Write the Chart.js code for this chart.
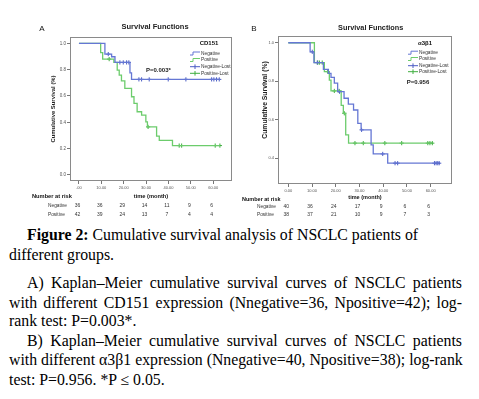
<!DOCTYPE html>
<html>
<head>
<meta charset="utf-8">
<script src="https://cdn.jsdelivr.net/npm/chart.js@4/dist/chart.umd.min.js"></script>
<style>
  body { margin: 0; background: #fff; width: 479px; height: 399px; overflow: hidden; position: relative; }
  canvas { position: absolute; top: 0; }
  #chartA { left: 0; }
  #chartB { left: 240px; }
  .cap { position: absolute; font-family: "Liberation Serif", "Times New Roman", serif; font-size: 15.8px;
         line-height: 19px; color: #000; white-space: nowrap; }
  .just { text-align: justify; text-align-last: justify; }
</style>
</head>
<body>
<canvas id="chartA" width="240" height="220"></canvas>
<canvas id="chartB" width="239" height="220"></canvas>

<div class="cap" style="left:27px;top:225px"><b>Figure 2:</b> Cumulative survival analysis of NSCLC patients of</div>
<div class="cap" style="left:9px;top:245px">different groups.</div>
<div class="cap just" style="left:27px;top:273px;width:435px">A) Kaplan–Meier cumulative survival curves of NSCLC patients</div>
<div class="cap just" style="left:9px;top:293px;width:453px">with different CD151 expression (Nnegative=36, Npositive=42); log-</div>
<div class="cap" style="left:9px;top:311px">rank test: P=0.003*.</div>
<div class="cap just" style="left:27px;top:331px;width:435px">B) Kaplan–Meier cumulative survival curves of NSCLC patients</div>
<div class="cap just" style="left:9px;top:350px;width:453px">with different α3β1 expression (Nnegative=40, Npositive=38); log-rank</div>
<div class="cap" style="left:9px;top:370px">test: P=0.956. *P ≤ 0.05.</div>

<script>
// ---- panel A: CD151 ----
const timeTicksA = [0, 10, 20, 30, 40, 50, 60];
const timeLabelsA = ['.00', '10.00', '20.00', '30.00', '40.00', '50.00', '60.00'];
const survTicksA = [0, 0.2, 0.4, 0.6, 0.8, 1.0];
const survLabelsA = ['0.0', '0.2', '0.4', '0.6', '0.8', '1.0'];
const negTimeA = [0, 11.6, 14.6, 16.1, 22.8, 23.5, 63];
const negSurvA = [1, 0.918, 0.898, 0.855, 0.776, 0.726, 0.726];
const negLostA = [13.1, 18.3, 19.8, 21.3, 22.3, 26.8, 28, 31.4, 39.9, 47.8, 59.3, 60.3, 61.5, 62.7];
const posTimeA = [0, 9.7, 10.6, 15.6, 17.1, 18, 19, 20.5, 23.5, 24.6, 26, 28, 29.9, 30.6, 34.7, 35.9, 41.8, 63];
const posSurvA = [1, 0.93, 0.88, 0.855, 0.797, 0.759, 0.715, 0.657, 0.594, 0.543, 0.48, 0.454, 0.403, 0.365, 0.295, 0.263, 0.223, 0.223];
const posLostA = [13.5, 30.9, 44.8, 45.9, 60.9, 63];
const riskNegA = [36, 36, 29, 14, 11, 9, 6];
const riskPosA = [42, 39, 24, 13, 7, 4, 4];

// ---- panel B: a3b1 ----
const timeTicksB = [0, 10, 20, 30, 40, 50, 60];
const timeLabelsB = ['0.00', '10.00', '20.00', '30.00', '40.00', '50.00', '60.00'];
const survTicksB = [0.4, 0.6, 0.8, 1.0];
const survLabelsB = ['0.4', '0.6', '0.8', '1.0'];
const negTimeB = [0, 9.2, 10.8, 14.8, 16.9, 18, 19.4, 20.8, 23.5, 25.3, 27.5, 29.3, 30.7, 34.9, 35.8, 41.9, 63.6];
const negSurvB = [1, 0.953, 0.897, 0.862, 0.841, 0.82, 0.79, 0.746, 0.712, 0.682, 0.651, 0.582, 0.548, 0.47, 0.423, 0.375, 0.375];
const negLostB = [10.1, 12.2, 21.6, 30.9, 39.8, 45, 46.1, 61.6, 62.3, 63, 63.6];
const posTimeB = [0, 11, 15.2, 17.3, 18, 22.3, 23.2, 24.2, 25.4, 60.7];
const posSurvB = [1, 0.897, 0.85, 0.806, 0.75, 0.675, 0.634, 0.522, 0.479, 0.479];
const posLostB = [12.4, 13.1, 14.3, 16.6, 19.4, 21.4, 23.6, 28.1, 31.6, 40.7, 47.8, 58.8, 59.7, 60.7];
const riskNegB = [40, 36, 24, 17, 9, 6, 6];
const riskPosB = [38, 37, 21, 10, 9, 7, 3];

const BLUE = '#6577d4', BLUE_MARK = '#4a5cc4';
const GREEN = '#6ccc6c', GREEN_MARK = '#3fae3f';
const SANS = '"Liberation Sans", Arial, sans-serif';

// survival value at time t from the step function
function survAt(times, surv, t) {
  let s = surv[0];
  for (let i = 0; i < times.length; i++) if (times[i] <= t) s = surv[i];
  return s;
}

function stepSet(times, surv, color) {
  return {
    data: times.map((t, i) => ({ x: t, y: surv[i] })),
    stepped: true, borderColor: color, borderWidth: 1.3,
    pointRadius: 0, fill: false
  };
}

function lostSet(lost, times, surv, color) {
  return {
    data: lost.map(t => ({ x: t, y: survAt(times, surv, t) })),
    showLine: false, pointStyle: 'cross', pointRadius: 2.1,
    borderColor: color, borderWidth: 1
  };
}

function txt(ctx, s, x, y, font, align, color) {
  ctx.font = font;
  ctx.textAlign = align || 'left';
  ctx.textBaseline = 'middle';
  ctx.fillStyle = color || '#222';
  ctx.fillText(s, x, y);
}

const annot = {
  id: 'annot',
  beforeDatasetsDraw(chart) {
    const ctx = chart.ctx, a = chart.chartArea;
    ctx.save();
    ctx.strokeStyle = '#8a8a8a';
    ctx.lineWidth = 1;
    ctx.strokeRect(Math.round(a.left) + 0.5, Math.round(a.top) + 0.5,
      Math.round(a.right - a.left) - 1, Math.round(a.bottom - a.top) - 1);
    ctx.restore();
  },
  afterDraw(chart, args, o) {
    const ctx = chart.ctx, xs = chart.scales.x;
    ctx.save();
    txt(ctx, o.letter, o.letterPos[0], o.letterPos[1], '8px ' + SANS, 'center', '#111');
    txt(ctx, 'Survival Functions', o.titlePos[0], o.titlePos[1], 'bold ' + o.titleSize + 'px ' + SANS, 'center', '#222');

    ctx.save();
    ctx.translate(o.yTitlePos[0], o.yTitlePos[1]);
    ctx.rotate(-Math.PI / 2);
    txt(ctx, 'Cumulative Survival (%)', 0, 0, 'bold ' + o.yTitleSize + 'px ' + SANS, 'center', '#222');
    ctx.restore();

    // legend
    txt(ctx, o.legendHead, o.legendHeadPos[0], o.legendHeadPos[1], 'bold 6px ' + SANS, 'center', '#111');
    const items = [
      ['Negative', BLUE, false], ['Positive', GREEN, false],
      ['Negative-Lost', BLUE_MARK, true], ['Positive-Lost', GREEN_MARK, true]
    ];
    const x0 = o.legendX;
    items.forEach((it, i) => {
      const y = o.legendRows[i];
      ctx.strokeStyle = it[1];
      ctx.lineWidth = 1;
      ctx.beginPath();
      if (it[2]) {
        ctx.moveTo(x0, y); ctx.lineTo(x0 + 10, y);
        ctx.moveTo(x0 + 5, y - 2.3); ctx.lineTo(x0 + 5, y + 2.3);
      } else {
        ctx.moveTo(x0, y + 1.5); ctx.lineTo(x0 + 3, y + 1.5);
        ctx.lineTo(x0 + 3, y - 1.5); ctx.lineTo(x0 + 10, y - 1.5);
      }
      ctx.stroke();
      txt(ctx, it[0], x0 + 11, y, '4.8px ' + SANS, 'left', '#333');
    });
    txt(ctx, o.pText, o.pPos[0], o.pPos[1], 'bold 6px ' + SANS, 'left', '#222');

    // number at risk table
    txt(ctx, 'Number at risk', o.riskHeadPos[0], o.riskHeadPos[1], 'bold ' + o.riskHeadSize + 'px ' + SANS, 'left', '#111');
    txt(ctx, 'time (month)', o.timeTitlePos[0], o.timeTitlePos[1], 'bold ' + o.riskHeadSize + 'px ' + SANS, 'center', '#111');
    [['Negative', o.riskNeg], ['Positive', o.riskPos]].forEach((row, r) => {
      const y = o.riskRows[r];
      txt(ctx, row[0], o.riskLabelX, y, '4.8px ' + SANS, 'left', '#333');
      row[1].forEach((v, i) => {
        txt(ctx, String(v), xs.getPixelForValue(o.riskTimes[i]) + o.riskShift, y, '5px ' + SANS, 'center', '#333');
      });
    });
    ctx.restore();
  }
};

function makeChart(id, p) {
  const canvas = document.getElementById(id);
  const W = canvas.width, H = canvas.height;
  return new Chart(canvas, {
    type: 'line',
    data: {
      datasets: [
        stepSet(p.negTime, p.negSurv, BLUE),
        stepSet(p.posTime, p.posSurv, GREEN),
        lostSet(p.negLost, p.negTime, p.negSurv, BLUE_MARK),
        lostSet(p.posLost, p.posTime, p.posSurv, GREEN_MARK)
      ]
    },
    options: {
      responsive: false,
      animation: false,
      layout: { padding: { left: 0, top: p.area.top, right: W - p.area.right, bottom: 0 } },
      plugins: { legend: { display: false }, tooltip: { enabled: false }, annot: p.annot },
      scales: {
        x: {
          type: 'linear', min: p.xMin, max: p.xMax,
          afterFit: s => { s.height = H - p.area.bottom; },
          afterBuildTicks: s => { s.ticks = p.xTicks.map(v => ({ value: v })); },
          grid: { drawOnChartArea: false, tickLength: 3, color: '#777' },
          border: { display: false },
          ticks: { autoSkip: false, maxRotation: 0, padding: 1, color: '#555',
                   font: { family: SANS, size: 4 }, callback: (v, i) => p.xLabels[i] }
        },
        y: {
          type: 'linear', min: p.yMin, max: p.yMax,
          afterFit: s => { s.width = p.area.left; },
          afterBuildTicks: s => { s.ticks = p.yTicks.map(v => ({ value: v })); },
          grid: { drawOnChartArea: false, tickLength: 3, color: '#777' },
          border: { display: false },
          ticks: { padding: 1, color: '#555', font: { family: SANS, size: p.yTickSize },
                   callback: (v, i) => p.yLabels[i] }
        }
      }
    },
    plugins: [annot]
  });
}

makeChart('chartA', {
  area: { left: 70, top: 37, right: 232, bottom: 181 },
  xMin: -4.0, xMax: 68.4, yMin: -0.046, yMax: 1.048, yTickSize: 4.5,
  xTicks: timeTicksA, xLabels: timeLabelsA, yTicks: survTicksA, yLabels: survLabelsA,
  negTime: negTimeA, negSurv: negSurvA, negLost: negLostA,
  posTime: posTimeA, posSurv: posSurvA, posLost: posLostA,
  annot: {
    letter: 'A', letterPos: [42, 29], titlePos: [155, 27], titleSize: 7.5,
    yTitlePos: [53, 109], yTitleSize: 5.9,
    legendHead: 'CD151', legendHeadPos: [209, 43], legendX: 190, legendRows: [53.5, 60, 66.7, 73.3],
    pText: 'P=0.003*', pPos: [146, 70],
    riskHeadPos: [32, 196], riskHeadSize: 5.7, timeTitlePos: [151, 196],
    riskLabelX: 48, riskRows: [205.3, 214.3], riskShift: -1.5,
    riskTimes: timeTicksA, riskNeg: riskNegA, riskPos: riskPosA
  }
});

makeChart('chartB', {
  area: { left: 38, top: 36, right: 212, bottom: 184 },
  xMin: -4.34, xMax: 69.0, yMin: 0.267, yMax: 1.035, yTickSize: 4,
  xTicks: timeTicksB, xLabels: timeLabelsB, yTicks: survTicksB, yLabels: survLabelsB,
  negTime: negTimeB, negSurv: negSurvB, negLost: negLostB,
  posTime: posTimeB, posSurv: posSurvB, posLost: posLostB,
  annot: {
    letter: 'B', letterPos: [14, 29], titlePos: [130.7, 28], titleSize: 7.3,
    yTitlePos: [25, 100], yTitleSize: 6.8,
    legendHead: 'α3β1', legendHeadPos: [185, 43], legendX: 168, legendRows: [52.7, 59, 65.7, 71.7],
    pText: 'P=0.956', pPos: [166.7, 82.3],
    riskHeadPos: [2, 199.3], riskHeadSize: 5.5, timeTitlePos: [125, 197.7],
    riskLabelX: 17, riskRows: [206.7, 215], riskShift: -2,
    riskTimes: timeTicksB, riskNeg: riskNegB, riskPos: riskPosB
  }
});
</script>
</body>
</html>
